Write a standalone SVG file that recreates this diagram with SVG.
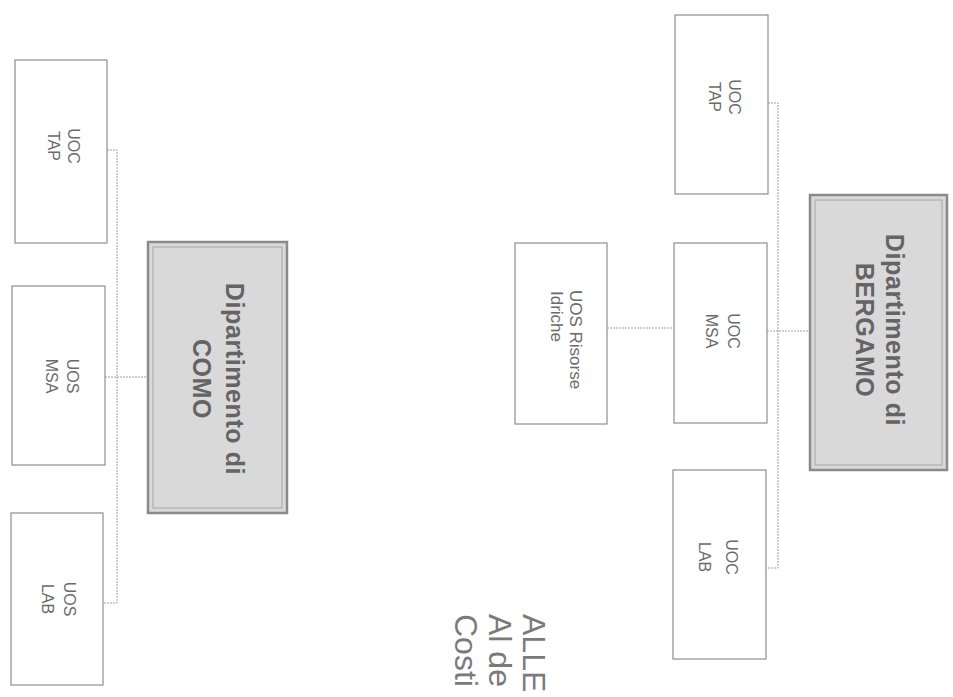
<svg xmlns="http://www.w3.org/2000/svg" width="953" height="697" viewBox="0 0 953 697">
<style>
.box{fill:#ffffff;stroke:#8e8e8e;stroke-width:1.2}
.dept{fill:#d9d9d9;stroke:#8a8a8a;stroke-width:2.5}
.deptin{fill:none;stroke:#a5a5a5;stroke-width:1}
.conn{fill:none;stroke:#a0a0a0;stroke-width:1;stroke-dasharray:2 1}
.lbl{font-family:"Liberation Sans",Arial,sans-serif;font-size:16px;fill:#6a6a6a}
.dl{font-family:"Liberation Sans",Arial,sans-serif;font-size:25px;font-weight:bold;fill:#646464;letter-spacing:0.6px}
.big{font-family:"Liberation Sans",Arial,sans-serif;font-size:32px;fill:#7a7a7a}
</style>
<rect width="953" height="697" fill="#ffffff"/>
<g id="connectors">
<polyline class="conn" points="107,150 117,150 117,603 103,603"/>
<line class="conn" x1="105" y1="377" x2="148" y2="377"/>
<polyline class="conn" points="768,103 778,103 778,568 766,568"/>
<line class="conn" x1="767" y1="331" x2="810" y2="331"/>
<line class="conn" x1="607" y1="328" x2="674" y2="328"/>
</g>
<g id="como-tap">
<rect class="box" x="15" y="60" width="92" height="183"/>
<text class="lbl" text-anchor="middle" transform="translate(68,146) rotate(90)">UOC</text>
<text class="lbl" text-anchor="middle" transform="translate(48,146) rotate(90)">TAP</text>
</g>
<g id="como-msa">
<rect class="box" x="12" y="286" width="93" height="179"/>
<text class="lbl" text-anchor="middle" transform="translate(67,376) rotate(90)">UOS</text>
<text class="lbl" text-anchor="middle" transform="translate(46,376) rotate(90)">MSA</text>
</g>
<g id="como-lab">
<rect class="box" x="11" y="513" width="92" height="172"/>
<text class="lbl" text-anchor="middle" transform="translate(64,599) rotate(90)">UOS</text>
<text class="lbl" text-anchor="middle" transform="translate(42,599) rotate(90)">LAB</text>
</g>
<g id="como-dept">
<rect class="dept" x="148" y="242" width="139" height="271"/>
<rect class="deptin" x="153" y="247" width="129" height="261"/>
<text class="dl" text-anchor="middle" transform="translate(226,379) rotate(90)">Dipartimento di</text>
<text class="dl" text-anchor="middle" transform="translate(193,379) rotate(90)">COMO</text>
</g>
<g id="uos-risorse">
<rect class="box" x="515" y="243" width="92" height="181"/>
<text class="lbl" style="font-size:17px" transform="translate(570,290) rotate(90)">UOS Risorse</text>
<text class="lbl" style="font-size:17px" transform="translate(551,291) rotate(90)">Idriche</text>
</g>
<g id="bg-tap">
<rect class="box" x="675" y="15" width="93" height="179"/>
<text class="lbl" text-anchor="middle" transform="translate(729,97) rotate(90)">UOC</text>
<text class="lbl" text-anchor="middle" transform="translate(709,97) rotate(90)">TAP</text>
</g>
<g id="bg-msa">
<rect class="box" x="674" y="243" width="93" height="180"/>
<text class="lbl" text-anchor="middle" transform="translate(728,331) rotate(90)">UOC</text>
<text class="lbl" text-anchor="middle" transform="translate(706,331) rotate(90)">MSA</text>
</g>
<g id="bg-lab">
<rect class="box" x="673" y="470" width="93" height="189"/>
<text class="lbl" text-anchor="middle" transform="translate(726,557) rotate(90)">UOC</text>
<text class="lbl" text-anchor="middle" transform="translate(699,557) rotate(90)">LAB</text>
</g>
<g id="bg-dept">
<rect class="dept" x="810" y="195" width="137" height="275"/>
<rect class="deptin" x="815" y="200" width="127" height="265"/>
<text class="dl" text-anchor="middle" transform="translate(886,330) rotate(90)">Dipartimento di</text>
<text class="dl" text-anchor="middle" transform="translate(856,330) rotate(90)">BERGAMO</text>
</g>
<g id="footer">
<text class="big" transform="translate(523,614) rotate(90)">ALLE</text>
<text class="big" transform="translate(489,614) rotate(90)">Al de</text>
<text class="big" transform="translate(455,614) rotate(90)">Costi</text>
</g>
</svg>
